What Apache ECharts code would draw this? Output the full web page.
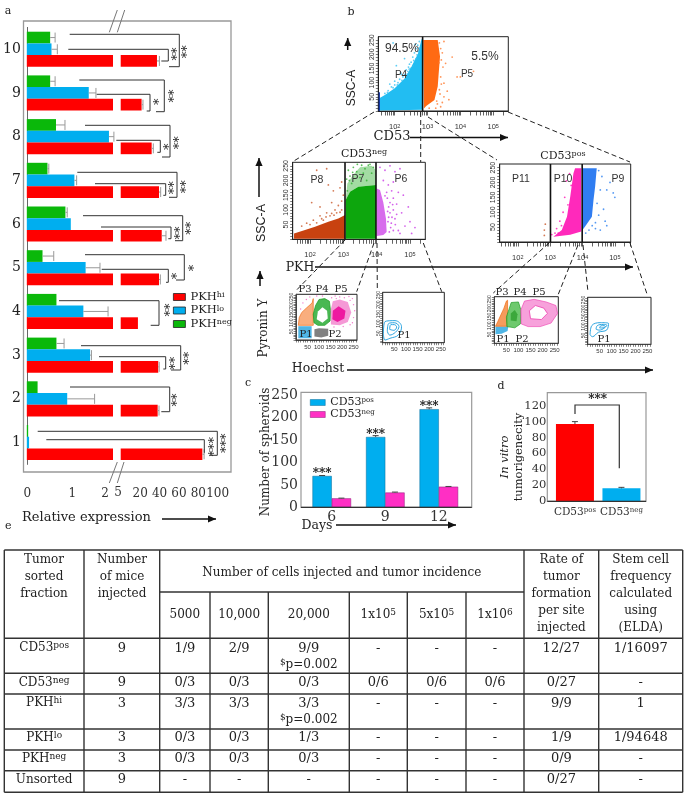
<!DOCTYPE html>
<html><head><meta charset="utf-8">
<style>html,body{margin:0;padding:0;background:#fff}#c{width:685px;height:795px}</style>
<script src="https://cdn.jsdelivr.net/npm/echarts@6/dist/echarts.min.js"></script>
</head><body><div id="c"></div>
<script>
// ---------- panel a data ----------
const geneRows = ['1','2','3','4','5','6','7','8','9','10'];
const pkhHi = [89.4,43.2,43.8,22.8,44.6,47.4,44.6,37,26.6,42.5];
const pkhLo = [0.05,0.90,1.41,1.26,1.31,0.98,1.06,1.83,1.38,0.55];
const pkhNeg = [0.03,0.24,0.66,0.66,0.35,0.86,0.46,0.65,0.52,0.52];
const pkhHiTop = [91.2,44.6,44.8,22.8,46,51.8,46.3,38.7,28,45];
const pkhLoTop = [0.05,1.51,1.44,1.81,1.63,0.99,1.11,1.94,1.54,0.68];
const pkhNegTop = [0.03,0.24,0.83,0.66,0.60,0.90,0.49,0.85,0.63,0.63];
// ---------- panel c / d data ----------
const days = ['6','9','12'];
const spheroidPos = [70,157,219];
const spheroidNeg = [20,33,46];
const spheroidPosTop = [71,160,222];
const spheroidNegTop = [20.5,34,46.5];
const tumorCats = ['CD53pos','CD53neg'];
const tumorVals = [97,16.3];
const tumorTops = [100,17.5];
// ---------- panel b data: gated outlines and outlying events (log10 intensity, SSC) ----------
const gateTop = [2.85];
const gateNeg = [3.05,3.98];
const gatePos = [3.01,3.99];
const p4Outline = [[1.53,2],[1.53,45],[1.70,56],[2,80],[2.30,115],[2.51,156],[2.71,203],[2.81,250],[2.85,260],[2.85,4]];
const p5Outline = [[2.87,250],[3.31,250],[3.38,192],[3.34,133],[3.31,86],[3.21,39],[2.96,18],[2.89,9]];
const p4Events = [[1.7,62],[1.8,72],[1.9,85],[2,92],[2.1,100],[2.15,112],[2.2,130],[2.3,128],[2.35,145],[2.4,140],[2.45,165],[2.5,172],[2.55,160],[2.55,190],[2.6,205],[2.65,185],[2.65,220],[2.7,232],[2.72,210],[2.75,245],[2.25,120],[2.05,160],[1.95,240],[2.3,185],[2,105],[2.42,155],[1.85,95],[2.18,135],[2.62,235],[1.78,66],[1.95,82],[2.08,92],[2.22,108],[2.38,130],[2.48,150],[2.58,178],[2.68,198],[2.74,222],[2.34,122],[2.44,148]];
const p5Events = [[3.5,245],[3.4,220],[3.75,190],[3.55,168],[3.9,120],[4,120],[4.4,140],[3.65,40],[3.5,50],[3.4,15],[3.25,10],[3.05,10],[3.5,98],[3.47,155],[3.42,95],[3.38,60],[3.45,30],[3.35,170],[3.45,205],[3.3,25],[3.6,70],[3.36,240],[3.42,180],[3.4,120],[3.36,75],[3.28,35]];
const p8Outline = [[1.52,20],[1.85,32],[2.15,43],[2.55,60],[2.85,71],[3.05,83],[3.05,2],[1.52,2]];
const p7Dense = [[3.07,2],[3.07,134],[3.2,162],[3.45,179],[3.98,185],[3.98,2]];
const p7Sparse = [[3.07,134],[3.12,190],[3.3,220],[3.5,245],[3.85,250],[3.98,235],[3.98,185],[3.45,179],[3.2,162]];
const p6Outline = [[4,173],[4.1,168],[4.2,125],[4.28,70],[4.3,25],[4.2,15],[4,11]];
const p8Events = [[2.2,235],[2.5,240],[2.95,195],[2.9,175],[2.7,165],[2.55,185],[2.05,125],[2.3,110],[2.65,125],[2.85,115],[2.75,100],[2.5,90],[2.3,80],[2.1,65],[1.9,55],[2.6,80],[2.8,90],[2.95,130],[3,150],[2.4,65],[1.75,45],[2.95,100],[2,50],[2.2,56],[2.35,70],[2.48,76],[2.65,88],[2.72,82],[2.9,92]];
const p7Events = [[3.1,205],[3.15,235],[3.25,190],[3.3,245],[3.4,230],[3.55,252],[3.65,240],[3.75,252],[3.9,245],[3.5,210],[3.7,200],[3.2,215],[3.85,225],[3.6,225],[3.12,165],[3.18,200],[3.28,228],[3.42,255],[3.8,255]];
const p6Events = [[4.1,245],[4.25,235],[4.4,250],[4.55,230],[4.7,240],[4.5,195],[4.65,160],[4.8,150],[4.6,120],[4.75,90],[4.95,110],[5.15,40],[5,60],[4.85,45],[4.65,30],[4.55,70],[4.5,100],[4.5,140],[4.35,185],[4.2,200],[4.45,165],[4.7,20],[5.05,20],[4.32,140],[4.36,110],[4.4,90],[4.34,60],[4.42,40],[4.5,30],[4.38,25],[4.3,160],[4.25,148],[4.46,75],[4.56,50],[4.6,85],[4.4,125],[4.48,118],[4.36,75],[4.33,95],[4.44,55]];
const p10Outline = [[3.1,18],[3.36,40],[3.52,85],[3.62,152],[3.72,231],[3.77,248],[3.96,248],[3.96,35],[3.62,24]];
const p9Outline = [[4,248],[4.44,248],[4.39,186],[4.34,141],[4.29,85],[4.08,52],[4,40]];
const p11Events = [[2.85,60],[2.82,40],[2.82,22]];
const p10Events = [[3.6,230],[3.5,205],[3.45,150],[3.4,100],[3.3,70],[3.2,45],[3.05,25],[3.25,30],[3.55,125],[3.65,190],[3.35,55],[3.15,30]];
const p9Events = [[4.5,240],[4.6,220],[4.55,175],[4.45,130],[4.5,90],[4.7,70],[4.55,40],[4.4,45],[4.65,110],[4.75,175],[4.95,165],[5,150],[4.3,55],[4.2,40],[4.4,65],[4.85,200],[4.75,55],[4.1,30]];
// ---------- panel b data: cell-cycle contours (Hoechst, Pyronin Y) ----------
const neg1P1 = [[10,10],[68,10],[68,80],[10,80]];
const neg1P3 = [[10,85],[14,130],[25,160],[45,185],[70,215],[75,240],[75,85]];
const neg1P4 = [[78,100],[75,150],[85,200],[100,235],[125,240],[145,225],[150,170],[148,110],[125,85],[95,85]];
const neg1P4Hole = [[90,120],[95,165],[115,190],[135,170],[138,125],[115,100]];
const neg1P5 = [[152,90],[150,170],[160,225],[190,235],[225,220],[240,160],[225,105],[190,85]];
const neg1P5Core = [[158,120],[160,170],[185,195],[215,170],[210,125],[180,105]];
const neg1P2 = [[80,20],[80,62],[100,68],[140,65],[140,25],[110,15]];
const neg1Sparse = [[155,245],[170,255],[190,250],[210,245],[230,252],[245,240],[250,205],[255,170],[250,130],[245,100],[235,88],[165,75],[205,78],[30,215],[45,235],[60,250],[20,180],[90,255],[115,255],[235,230],[175,240]];
const neg2Rings = [[[3,49],[10,111],[53,116],[81,84],[67,40],[31,23],[10,14],[3,49]],[[20,60],[25,100],[50,105],[70,85],[55,55],[30,40],[20,60]],[[30,70],[35,95],[50,95],[60,82],[48,65],[30,70]]];
const pos1P1 = [[5,52],[5,95],[58,95],[55,70],[30,55]];
const pos1P3 = [[5,97],[15,125],[25,155],[40,200],[50,240],[55,245],[55,97]];
const pos1P4 = [[52,95],[50,150],[60,190],[70,232],[100,235],[110,190],[108,110],[85,88]];
const pos1P4Hole = [[68,130],[68,170],[85,190],[96,165],[92,125]];
const pos1P5 = [[112,110],[110,190],[125,240],[165,250],[215,235],[255,215],[262,170],[235,115],[190,95],[140,95]];
const pos1P5Hole = [[150,140],[145,185],[170,215],[205,200],[220,170],[195,135]];
const pos2Rings = [[[10,53],[17,105],[52,122],[87,118],[80,81],[45,68],[20,43],[10,53]],[[35,85],[40,105],[65,112],[80,108],[70,92],[48,80],[35,85]],[[50,92],[55,104],[70,105],[74,100],[60,92],[50,92]]];
// ---------- panel e data ----------
const tableHeadLeft = ['Tumor','sorted','fraction'];
const tableHeadMice = ['Number','of mice','injected'];
const tableHeadCells = 'Number of cells injected and tumor incidence';
const tableDoses = ['5000','10,000','20,000','1x10^{5}','5x10^{5}','1x10^{6}'];
const tableHeadRate = ['Rate of','tumor','formation','per site','injected'];
const tableHeadStem = ['Stem cell','frequency','calculated','using','(ELDA)'];
const fractions = ['CD53^{pos}','CD53^{neg}','PKH^{hi}','PKH^{lo}','PKH^{neg}','Unsorted'];
const mice = ['9','9','3','3','3','9'];
const dose5000 = ['1/9','0/3','3/3','0/3','0/3','-'];
const dose10000 = ['2/9','0/3','3/3','0/3','0/3','-'];
const dose20000 = ['9/9','0/3','3/3','1/3','0/3','-'];
const dose1e5 = ['-','0/6','-','-','-','-'];
const dose5e5 = ['-','0/6','-','-','-','-'];
const dose1e6 = ['-','0/6','-','-','-','-'];
const tumorRate = ['12/27','0/27','9/9','1/9','0/9','0/27'];
const stemFreq = ['1/16097','-','1','1/94648','-','-'];
const pNotes = ['^{$}p=0.002','','^{$}p=0.002','','',''];

// ---------- layout constants ----------
const SERIF='"DejaVu Serif", serif', SANS='"Liberation Sans", sans-serif';
const RED='#ff0000', BLUE='#00aeef', GREEN='#0ab80a', PINK='#ff2fc4';
const bracketLayout = [ // y, xStart, xEnd, yEnd, xBack
 [34.3,69.7,179.3,66.7,169],[49.3,68.3,168.3,61,161.3],
 [80,79.3,164.3,111.7,156],[94.3,96.7,150,111,146.7],
 [125.3,85,170,157,162],[140.3,116.3,160.3,152.3,157.3],
 [172.3,77.3,177,197.3,169],[183.7,95,165.7,195.3,163.3],
 [215.7,83,182.7,240.7,175],[227,101,171,238.7,168.3],
 [254.7,85,184.3,280,176],[269.3,101.7,168.3,282.3,166],
 [300.7,59,159,325.3,150.7],
 [345.7,81,180.7,370,171],[356.7,99,165.7,369,163.3],
 [387,70,169.7,411.7,161.3],
 [431.3,37.7,217.3,455.3,210],[439.7,46.3,204.3,452.7,204]];
const starLayout = [['**',172.7,54],['**',183,51.7],['*',155,101.7],['**',170,96],['*',164.7,146.7],['**',175,142.7],
 ['**',170,187.7],['**',182.3,186.7],['**',175.7,233],['**',186.7,228.3],['*',172.7,276],['*',190,268],['**',165.7,310],
 ['**',170.7,363.3],['**',185,358.3],['**',173.3,400],['***',210,446.7],['***',221.7,443.3]];
const dashLayout = [[374,112,292.7,161.7],[420.7,112,420.7,162],[428,117,497,160],[508,112,630,162],
 [345,240,295,291.7],[374,243,356.7,291.7],[377,243,377.3,288],[423.3,243,441.7,291.7],
 [549,243,493.3,293],[578,245,558,295],[583,245,588,292],[630,243,647,294]];
const tableX = [4.3,84,159.7,210,268.3,349.3,407.3,466,524,598.7,682.7];
const tableY = [550,592,638.3,673.3,694,729,750,770.7,792.3];
const tableRowTextY = [648.3,682.7,703.3,737.7,759,780];

// ---------- graphic helpers ----------
const gfx = [];
function richText(str,size,family,extra){
  const parts = str.split(/(\^\{[^}]*\})/).filter(Boolean).map(p=>p.startsWith('^{')?`{s|${p.slice(2,-1)}}`:`{n|${p}}`).join('');
  return {text:parts,rich:{n:Object.assign({fontSize:size,fontFamily:family,fill:'#222',lineHeight:size+2},extra||{}),
    s:{fontSize:Math.round(size*.72),fontFamily:family,fill:'#222',verticalAlign:'top'}}};
}
function T(x,y,str,o){
  o=o||{};const size=o.size||11,fam=o.font||SERIF;
  const st = {x:0,y:0,align:o.align||'center',verticalAlign:'middle',fill:o.color||'#222'};
  if(str.includes('^{')) Object.assign(st,richText(str,size,fam));
  else Object.assign(st,{text:str,font:`${o.style||'normal'} ${o.weight||'normal'} ${size}px ${fam}`});
  gfx.push({type:'text',x,y,rotation:o.rot||0,silent:true,z:20,style:st});
}
function L(x1,y1,x2,y2,o){o=o||{};gfx.push({type:'line',silent:true,z:o.z||15,shape:{x1,y1,x2,y2},style:{stroke:o.color||'#222',lineWidth:o.w||1,lineDash:o.dash||null}});}
function P(pts,o){o=o||{};gfx.push({type:'polyline',silent:true,z:15,shape:{points:pts},style:{stroke:o.color||'#222',lineWidth:o.w||1,fill:null}});}
function Arrow(x1,y1,x2,y2){
  L(x1,y1,x2,y2,{w:1.5,color:'#111'});
  const a=Math.atan2(y2-y1,x2-x1),s=8,h=3.6,c=Math.cos(a),n=Math.sin(a);
  const bx=x2-s*c,by=y2-s*n;
  gfx.push({type:'polygon',silent:true,z:15,shape:{points:[[x2,y2],[bx-h*n,by+h*c],[bx+h*n,by-h*c]]},style:{fill:'#111'}});
}

// ---------- echarts building blocks ----------
const grids=[],xAxes=[],yAxes=[],series=[];
function addGrid(l,t,r,b,show){grids.push({left:l,top:t,width:r-l,height:b-t,show:!!show,borderColor:'#222',borderWidth:1,backgroundColor:'transparent'});return grids.length-1;}
function poly(i,pts,fill,o){
  o=o||{};
  series.push({type:'custom',coordinateSystem:'cartesian2d',xAxisIndex:i,yAxisIndex:i,silent:true,data:pts,encode:{x:0,y:1},z:o.z||3,clip:false,
    renderItem:(p,api)=>p.dataIndex!==0?null:({type:'polygon',shape:{points:pts.map(q=>api.coord(q))},
      style:{fill:fill,stroke:o.stroke||'none',lineWidth:o.w||0,opacity:o.opacity==null?1:o.opacity}})});
}
function ring(i,pts,stroke,w){
  series.push({type:'line',xAxisIndex:i,yAxisIndex:i,data:pts,symbol:'none',silent:true,z:4,smooth:0.4,lineStyle:{color:stroke,width:w||0.8}});
}
function dots(i,pts,color,sz){series.push({type:'scatter',xAxisIndex:i,yAxisIndex:i,data:pts,symbolSize:sz||1.8,silent:true,z:3,itemStyle:{color}});}
function gates(i,vals){vals.forEach(v=>series.push({type:'line',xAxisIndex:i,yAxisIndex:i,data:[[v,0],[v,262]],symbol:'none',silent:true,z:5,lineStyle:{color:'#111',width:1.6}}));}
function logTicks(a,b){const r=[];for(let d=1;d<6;d++)for(let k=1;k<10;k++){const v=d+Math.log10(k);if(v>=a&&v<=b)r.push(+v.toFixed(3));}return r;}
function facsAxes(i,minX,maxX){
  xAxes.push({gridIndex:i,type:'value',min:minX,max:maxX,splitLine:{show:false},axisLine:{lineStyle:{color:'#222'}},
    axisTick:{customValues:logTicks(minX,maxX),length:4.5,lineStyle:{color:'#222',width:.7}},
    axisLabel:{customValues:[2,3,4,5],margin:12,formatter:v=>`{n|10}{s|${Math.round(v)}}`,rich:{n:{fontSize:7.5,fontFamily:SANS,color:'#333'},s:{fontSize:5.5,fontFamily:SANS,color:'#333',verticalAlign:'top'}}}});
  yAxes.push({gridIndex:i,type:'value',min:0,max:262,splitLine:{show:false},axisLine:{lineStyle:{color:'#222'}},
    axisTick:{customValues:[0,10,20,30,40,50,60,70,80,90,100,110,120,130,140,150,160,170,180,190,200,210,220,230,240,250],length:2.5,lineStyle:{color:'#222',width:.6}},
    axisLabel:{customValues:[50,100,150,200,250],rotate:90,margin:3,fontSize:7,fontFamily:SANS,color:'#333'}});
}
function cycleAxes(i){
  const tk=[];for(let v=0;v<=260;v+=10)tk.push(v);
  xAxes.push({gridIndex:i,type:'value',min:0,max:265,splitLine:{show:false},axisLine:{lineStyle:{color:'#444'}},
    axisTick:{customValues:tk,length:2.5,lineStyle:{color:'#333',width:.6}},
    axisLabel:{customValues:[50,100,150,200,250],margin:4,fontSize:6,fontFamily:SANS,color:'#333'}});
  yAxes.push({gridIndex:i,type:'value',min:0,max:265,splitLine:{show:false},axisLine:{lineStyle:{color:'#444'}},
    axisTick:{customValues:tk,length:2.5,lineStyle:{color:'#333',width:.6}},
    axisLabel:{customValues:[50,100,150,200,250],rotate:90,margin:2,fontSize:5,fontFamily:SANS,color:'#333'}});
}
function errBars(i,vals,tops,offset,name){
  const d=vals.map((v,k)=>[v,tops[k],k]);
  series.push({type:'custom',name,coordinateSystem:'cartesian2d',xAxisIndex:i,yAxisIndex:i,silent:true,z:4,clip:false,data:d,encode:{x:[0,1],y:2},
    renderItem:(p,api)=>{
      const a=api.coord([api.value(0),api.value(2)]),b=api.coord([api.value(1),api.value(2)]);
      if(b[0]-a[0]<0.5)return null;
      const y=a[1]+offset,h=5;
      return {type:'group',children:[
        {type:'line',shape:{x1:a[0],y1:y,x2:b[0],y2:y},style:{stroke:'#999',lineWidth:1}},
        {type:'line',shape:{x1:b[0],y1:y-h,x2:b[0],y2:y+h},style:{stroke:'#999',lineWidth:1}}]};
    }});
}
function vErrBars(i,vals,tops,offset,name){
  const d=vals.map((v,k)=>[k,v,tops[k]]);
  series.push({type:'custom',name,coordinateSystem:'cartesian2d',xAxisIndex:i,yAxisIndex:i,silent:true,z:4,clip:false,data:d,encode:{x:0,y:[1,2]},
    renderItem:(p,api)=>{
      const a=api.coord([api.value(0),api.value(1)]),b=api.coord([api.value(0),api.value(2)]);
      const x=a[0]+offset,w=3;
      return {type:'group',children:[
        {type:'line',shape:{x1:x,y1:a[1],x2:x,y2:b[1]},style:{stroke:'#444',lineWidth:1}},
        {type:'line',shape:{x1:x-w,y1:b[1],x2:x+w,y2:b[1]},style:{stroke:'#444',lineWidth:1}}]};
    }});
}

// ---------- panel a ----------
const aBottom=464.4, aOff=7.5, barH=11.7;
const aL=addGrid(23.5,27.4,113,aBottom), aR=addGrid(120.7,27.4,231,aBottom);
const aLine={lineStyle:{color:'#777',width:1.2}};
xAxes.push({gridIndex:aL,type:'value',min:0,max:1.92,offset:aOff,splitLine:{show:false},axisLine:aLine,
  axisTick:{customValues:[0,1],length:5,lineStyle:{color:'#777'}},
  axisLabel:{customValues:[0,1],margin:16,fontSize:12,fontFamily:SERIF,color:'#333',padding:[0,0,0,1]}});
xAxes.push({gridIndex:aR,type:'value',min:5,max:119,offset:aOff,splitLine:{show:false},axisLine:aLine,
  axisTick:{customValues:[20,40,60,80,100],length:5,lineStyle:{color:'#777'}},
  axisLabel:{customValues:[20,40,60,80,100],margin:16,fontSize:12,fontFamily:SERIF,color:'#333',padding:[0,0,0,10]}});
yAxes.push({gridIndex:aL,type:'category',data:geneRows,axisTick:{show:false},axisLine:{lineStyle:{color:'#666'}},
  axisLabel:{margin:6,fontSize:14,fontFamily:SERIF,color:'#222'}});
yAxes.push({gridIndex:aR,type:'category',data:geneRows,show:false});
function barA(i,name,data,color){series.push({type:'bar',name,xAxisIndex:i,yAxisIndex:i,data,barWidth:barH,barGap:'0%',z:2,clip:true,silent:true,
  itemStyle:{color}});}
barA(aL,'PKHneg',pkhNeg,GREEN);barA(aL,'PKHlo',pkhLo,BLUE);barA(aL,'PKHhi',pkhHi,RED);
barA(aR,'PKHneg',[],GREEN);barA(aR,'PKHlo',[],BLUE);barA(aR,'PKHhi',pkhHi,RED);
errBars(aL,pkhLo,pkhLoTop,0,'errLo');errBars(aL,pkhNeg,pkhNegTop,-barH,'errNeg');errBars(aR,pkhHi,pkhHiTop,barH,'errHi');
gfx.push({type:'rect',silent:true,z:1,shape:{x:23.5,y:21,width:207.5,height:451},style:{fill:null,stroke:'#999',lineWidth:1.3}});
bracketLayout.forEach(b=>P([[b[1],b[0]],[b[2],b[0]],[b[2],b[3]],[b[4],b[3]]],{w:1,color:'#333'}));
starLayout.forEach(s=>T(s[1]+4.5,s[2],s[0],{size:13,rot:Math.PI/2,color:'#222'}));
[[109.3,32.3,117.3,10],[117.3,32.3,124.7,10],[109.3,483,117.3,462],[117.3,483,124,462]].forEach(l=>L(l[0],l[1],l[2],l[3],{color:'#777'}));
T(105,494,'2',{size:12,color:'#333'});T(118,493,'5',{size:12,color:'#333'});
T(22,518,'Relative expression',{size:13,align:'left'});Arrow(162,519,216,519);
T(8,11,'a',{size:11});

// ---------- panel b: scatter plots ----------
const f1=addGrid(378.3,36.7,508.3,111,true);facsAxes(f1,1.5,5.46);
poly(f1,p4Outline,'#22bdf2');poly(f1,p5Outline,'#ff6a13');dots(f1,p4Events,'#35c2f2');dots(f1,p5Events,'#ff7a30');gates(f1,gateTop);
series.push({type:'line',xAxisIndex:f1,yAxisIndex:f1,data:[[1.53,0],[1.53,66]],symbol:'none',silent:true,z:5,lineStyle:{color:'#1030a0',width:1.3}});
const f2=addGrid(292.7,162.3,425.3,239.3,true);facsAxes(f2,1.48,5.46);
poly(f2,p8Outline,'#c84210');poly(f2,p7Sparse,'#19a819',{opacity:.4});poly(f2,p7Dense,'#0da60d');poly(f2,p6Outline,'#c93be6',{opacity:.75});
dots(f2,p8Events,'#c9592a');dots(f2,p7Events,'#30b030');dots(f2,p6Events,'#c93be6');gates(f2,gateNeg);
const f3=addGrid(499.7,164,630.7,242,true);facsAxes(f3,1.44,5.49);
poly(f3,p10Outline,'#ff12b4',{opacity:.9});poly(f3,p9Outline,'#1a6ff0',{opacity:.9});
dots(f3,p11Events,'#c9592a');dots(f3,p10Events,'#ff12b4');dots(f3,p9Events,'#2a7ff0');gates(f3,gatePos);

T(402,49,'94.5%',{font:SANS,size:12,color:'#333'});T(485,57,'5.5%',{font:SANS,size:12,color:'#333'});
T(401,75,'P4',{font:SANS,size:10,color:'#333'});T(467,74,'P5',{font:SANS,size:10,color:'#333'});
T(317,180,'P8',{font:SANS,size:10.5,color:'#333'});T(358,179,'P7',{font:SANS,size:10.5,color:'#333'});T(401,179,'P6',{font:SANS,size:10.5,color:'#333'});
T(521,179,'P11',{font:SANS,size:10.5,color:'#333'});T(563,179,'P10',{font:SANS,size:10.5,color:'#333'});T(618,179,'P9',{font:SANS,size:10.5,color:'#333'});
T(352,88,'SSC-A',{font:SANS,size:12,rot:Math.PI/2});Arrow(347.7,50,347.7,38);
T(392,137,'CD53',{size:13});Arrow(410,137.5,508,137.5);
T(364,154,'CD53^{neg}',{size:11});T(563,156,'CD53^{pos}',{size:11});
T(262,223,'SSC-A',{font:SANS,size:12.5,rot:Math.PI/2});Arrow(259,197,259,158);
T(300,268,'PKH',{size:12.5});Arrow(315,267,633,267);
T(264,328,'Pyronin Y',{size:12,rot:Math.PI/2});Arrow(260,286,260,271);
T(318,369,'Hoechst',{size:12.5});Arrow(347,370,653,370);
T(351,12,'b',{size:11});
dashLayout.forEach(d=>L(d[0],d[1],d[2],d[3],{dash:[5,3],color:'#222'}));

// ---------- panel b: contour plots ----------
const c1=addGrid(296,294.3,357,340,true);cycleAxes(c1);
poly(c1,neg1P1,'#30a8e0',{opacity:.85});poly(c1,neg1P3,'#f79a5e',{opacity:.8,stroke:'#f06a10',w:.8});
poly(c1,neg1P4,'#35b040',{opacity:.9,stroke:'#1a9a20',w:.8});poly(c1,neg1P4Hole,'#fff',{z:4});
poly(c1,neg1P5,'#f277c8',{opacity:.75});poly(c1,neg1P5Core,'#ee1aa0',{z:4});poly(c1,neg1P2,'#555',{opacity:.75});
dots(c1,neg1Sparse,'#f05ac0',1.4);
const c2=addGrid(382.7,292.3,444.3,342.7,true);cycleAxes(c2);
neg2Rings.forEach(r=>ring(c2,r,'#2ba4e0',1));
const c3=addGrid(494.3,296.7,558.3,343.3,true);cycleAxes(c3);
poly(c3,pos1P1,'#30a8e0',{opacity:.85});poly(c3,pos1P3,'#f58a40',{opacity:.85,stroke:'#f06a10',w:.8});
poly(c3,pos1P4,'#55bf55',{opacity:.85,stroke:'#1a9a20',w:.8});poly(c3,pos1P4Hole,'#30a030',{z:4,opacity:.8});
poly(c3,pos1P5,'#f58ad2',{opacity:.8,stroke:'#ee40b0',w:.8});poly(c3,pos1P5Hole,'#fff',{z:4,stroke:'#ee40b0',w:.8});
const c4=addGrid(587.7,297.3,651,344.3,true);cycleAxes(c4);
pos2Rings.forEach(r=>ring(c4,r,'#2ba4e0',1));
[[305,289,'P3'],[322,289,'P4'],[341,289,'P5'],[306,334,'P1'],[335,334,'P2'],[404,335,'P1'],[502,292,'P3'],[520,292,'P4'],[539,292,'P5'],[503,339,'P1'],[522,339,'P2'],[604,339,'P1']].forEach(p=>T(p[0],p[1],p[2],{size:10}));

// ---------- panel c ----------
const gc=addGrid(305,392.3,465.6,507.3);
const serifAxisLabel={fontFamily:SERIF,color:'#333'};
xAxes.push({gridIndex:gc,type:'category',data:days,axisTick:{show:false},axisLine:{lineStyle:{color:'#333',width:1.2}},axisLabel:Object.assign({fontSize:14,margin:3},serifAxisLabel)});
yAxes.push({gridIndex:gc,type:'value',min:0,max:256.7,offset:4,interval:50,splitLine:{show:false},axisTick:{show:false},axisLine:{show:false},
  axisLabel:Object.assign({fontSize:14,margin:3,showMaxLabel:false},serifAxisLabel)});
series.push({type:'bar',name:'CD53pos',xAxisIndex:gc,yAxisIndex:gc,data:spheroidPos,barWidth:19.3,barGap:'0%',silent:true,z:2,itemStyle:{color:BLUE,borderColor:'#0d6c99',borderWidth:.5},
  label:{show:true,position:'top',distance:-4,formatter:'***',fontFamily:SERIF,fontWeight:'bold',fontSize:12,color:'#111'}});
series.push({type:'bar',name:'CD53neg',xAxisIndex:gc,yAxisIndex:gc,data:spheroidNeg,barWidth:19.3,silent:true,z:2,itemStyle:{color:PINK,borderColor:'#8a1a78',borderWidth:.5}});
vErrBars(gc,spheroidPos,spheroidPosTop,-9.65,'errPos');vErrBars(gc,spheroidNeg,spheroidNegTop,9.65,'errNeg2');
gfx.push({type:'rect',silent:true,z:1,shape:{x:301,y:392.3,width:170.7,height:115},style:{fill:null,stroke:'#999',lineWidth:1.2}});
L(301,507.3,471.7,507.3,{color:'#333',w:1.2});
T(265.7,452,'Number of spheroids',{size:12,rot:Math.PI/2});
T(317,526,'Days',{size:12.5});Arrow(336,525,456,525);T(248,383,'c',{size:11});

// ---------- panel d ----------
const gd=addGrid(551.7,392.7,644.7,501.3);
xAxes.push({gridIndex:gd,type:'category',data:tumorCats,axisTick:{show:false},axisLine:{lineStyle:{color:'#333',width:1.2}},
  axisLabel:{interval:0,hideOverlap:false,margin:5,formatter:v=>v.replace(/(CD53)(.*)/,'{n|$1}{s|$2}'),rich:{n:{fontSize:10.5,fontFamily:SERIF,color:'#333'},s:{fontSize:7,fontFamily:SERIF,color:'#333',verticalAlign:'top'}}}});
yAxes.push({gridIndex:gd,type:'value',min:0,max:136.3,offset:4.4,interval:20,splitLine:{show:false},axisTick:{length:2,lineStyle:{color:'#555'}},axisLine:{show:false},
  axisLabel:Object.assign({fontSize:11.5,margin:1,showMaxLabel:false},serifAxisLabel)});
series.push({type:'bar',name:'tumorigenicity',xAxisIndex:gd,yAxisIndex:gd,data:tumorVals.map((v,i)=>({value:v,itemStyle:{color:i?BLUE:RED}})),barWidth:38,silent:true,z:2});
vErrBars(gd,tumorVals,tumorTops,0,'errTumor');
gfx.push({type:'rect',silent:true,z:1,shape:{x:547.3,y:392.7,width:98.7,height:108.6},style:{fill:null,stroke:'#999',lineWidth:1.2}});
L(547.3,501.3,646,501.3,{color:'#333',w:1.2});
P([[575,414],[575,405],[619.3,405],[619.3,468.3]],{w:1.2,color:'#333'});
T(505,457,'In vitro',{size:11.5,style:'italic',rot:Math.PI/2});
T(519,457,'tumorigenecity',{size:11.5,rot:Math.PI/2});
T(597.7,400,'***',{size:12,weight:'bold',color:'#111'});T(501,386,'d',{size:11});

// ---------- panel e ----------
T(5,526,'e',{size:11,align:'left'});
const TX=tableX, TY=tableY;
[0,2,3,4,5,6,7,8].forEach(k=>L(TX[0],TY[k],TX[10],TY[k],{w:1.4,color:'#333'}));
L(TX[2],TY[1],TX[8],TY[1],{w:1.4,color:'#333'});
TX.forEach((x,k)=>{const top=(k>=3&&k<=7)?TY[1]:TY[0];L(x,top,x,TY[8],{w:1.4,color:'#333'});});
const cx=k=>(TX[k]+TX[k+1])/2;
const tb={size:12}, num={size:13};
tableHeadLeft.forEach((s,i)=>T(44,560+i*16.7,s,tb));
tableHeadMice.forEach((s,i)=>T(122,560+i*16.7,s,tb));
T((TX[2]+TX[8])/2,573,tableHeadCells,tb);
tableDoses.forEach((s,i)=>T(cx(2+i),615,s,tb));
tableHeadRate.forEach((s,i)=>T(cx(8),559.5+i*17.1,s,tb));
tableHeadStem.forEach((s,i)=>T(cx(9),559.5+i*17.1,s,tb));
const cols=[fractions,mice,dose5000,dose10000,dose20000,dose1e5,dose5e5,dose1e6,tumorRate,stemFreq];
cols.forEach((col,c)=>col.forEach((s,r)=>T(cx(c),tableRowTextY[r],s,c===0?tb:num)));
pNotes.forEach((s,r)=>{if(s)T(cx(4),tableRowTextY[r]+17,s,tb);});

// ---------- chart ----------
const legendFmt=n=>n.replace(/(PKH|CD53)(.*)/,'{n|$1}{s|$2}');
const legendRich=sz=>({n:{fontSize:sz,fontFamily:SERIF,color:'#222'},s:{fontSize:Math.round(sz*.68),fontFamily:SERIF,color:'#222',verticalAlign:'top'}});
const option={animation:false,backgroundColor:'#fff',grid:grids,xAxis:xAxes,yAxis:yAxes,series,graphic:{elements:gfx},
  legend:[
   {data:['PKHhi','PKHlo','PKHneg'],orient:'vertical',left:173,top:291,padding:0,itemGap:1.5,itemWidth:12,itemHeight:7,selectedMode:false,icon:'rect',
    itemStyle:{borderColor:'#222',borderWidth:.8},formatter:legendFmt,textStyle:{rich:legendRich(11.5)}},
   {data:['CD53pos','CD53neg'],orient:'vertical',left:310,top:397,padding:0,itemGap:1,itemWidth:15,itemHeight:6,itemStyle:{borderWidth:.5},selectedMode:false,icon:'rect',formatter:legendFmt,textStyle:{rich:legendRich(11)}}
  ]};
const chart=echarts.init(document.getElementById('c'),null,{renderer:'canvas'});
chart.setOption(option);
</script></body></html>
